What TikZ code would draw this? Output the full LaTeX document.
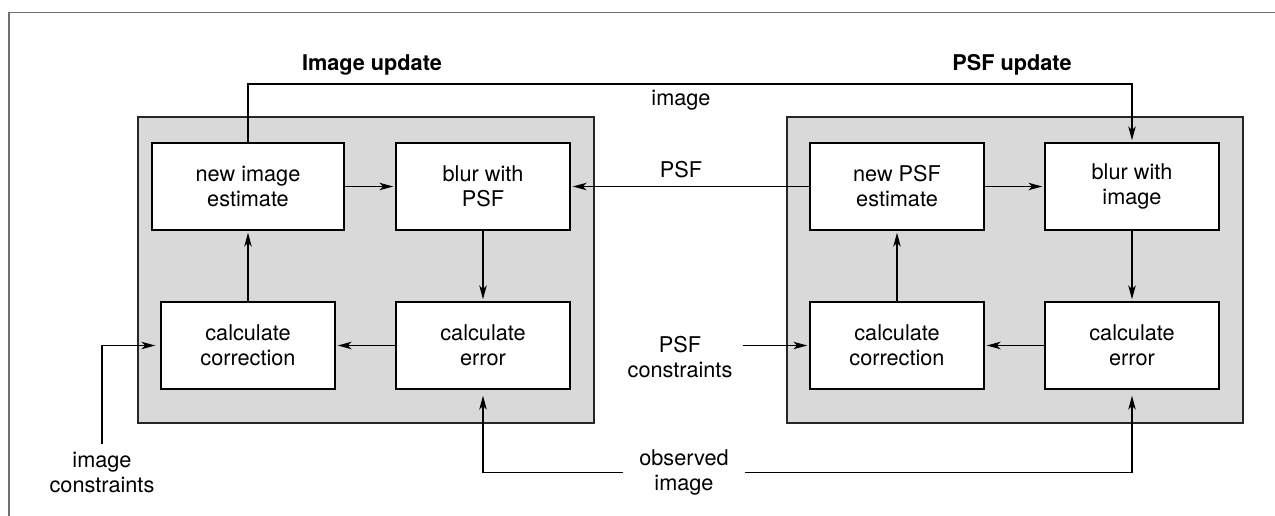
\documentclass[tikz,border=0pt]{standalone}
\usepackage{fontspec}
\setmainfont{TeX Gyre Heros}
\usetikzlibrary{arrows.meta}
\newcommand\lblfont{\fontsize{21.7}{25}\selectfont}
\definecolor{panelgray}{HTML}{D9D9D9}
\definecolor{framegray}{HTML}{707070}
\begin{document}
\begin{tikzpicture}[x=1pt,y=-1pt,
  blk/.style={draw=black, fill=white, line width=1.4pt, minimum width=174pt,
    minimum height=87pt, align=center, inner sep=0pt, font=\lblfont},
  panel/.style={draw=black!85, fill=panelgray, line width=1.4pt,
    minimum width=456pt, minimum height=306pt, inner sep=0pt},
  txt/.style={inner sep=0pt, align=center, font=\lblfont},
  title/.style={inner sep=0pt, font=\lblfont\bfseries, anchor=base},
  arr/.style={line width=1.3pt, -{Stealth[length=14pt,width=7.5pt,inset=4pt]},
    shorten >=2pt},
  frame/.style={draw=framegray, line width=1.3pt}]
\useasboundingbox (0,0) rectangle (1275,516);

% outer frame
\draw[frame] (9,516) -- (9,12.7) -- (1275,12.7);

% shaded panels
\node[panel] (lp) at (366,270) {};
\node[panel] (rp) at (1015,270) {};

% titles
\node[title] (t1) at (372,70.7) {Image update};
\node[title] (t2) at (1012,70.7) {PSF update};

% image update loop
\node[blk, minimum width=192pt] (nie) at (248,186.5) {new image\\estimate};
\node[blk] (bpsf) at (483,186.5) {blur with\\PSF};
\node[blk] (ccl) at (248,345.5) {calculate\\correction};
\node[blk] (cel) at (483,345.5) {calculate\\error};

% PSF update loop
\node[blk] (npe) at (897,186.5) {new PSF\\estimate};
\node[blk] (bimg) at (1132,186.5) {blur with\\image};
\node[blk] (ccr) at (897,345.5) {calculate\\correction};
\node[blk] (cer) at (1132,345.5) {calculate\\error};

% external labels
\node[txt, anchor=base] (limg) at (681,106) {image};
\node[txt, anchor=base] (lpsf) at (681,178) {PSF};
\node[txt, inner ysep=8pt] (icon) at (102,472.5) {image\\constraints};
\node[txt, inner xsep=10pt] (pcon) at (680,357) {PSF\\constraints};
\node[txt, inner xsep=16pt] (obs) at (684,472.5) {observed\\image};

\coordinate (toprun) at (0,84);

% loop connectors
\draw[arr] (nie) -- (bpsf);
\draw[arr] (bpsf) -- (cel);
\draw[arr] (cel) -- (ccl);
\draw[arr] (ccl) -- (nie);
\draw[arr] (npe) -- (bimg);
\draw[arr] (bimg) -- (cer);
\draw[arr] (cer) -- (ccr);
\draw[arr] (ccr) -- (npe);

% exchange between the loops
\draw[arr] (nie.north) -- (nie.north |- toprun) -| (bimg.north);
\draw[arr] (npe.west) -- (bpsf.east);

% inputs
\draw[arr, shorten >=5pt] (icon.north) |- (ccl.west);
\draw[arr] (pcon.east |- ccr.west) -- (ccr.west);
\draw[arr, shorten >=6pt] (obs.west) -| (cel.south);
\draw[arr, shorten >=6pt] (obs.east) -| (cer.south);
\end{tikzpicture}
\end{document}
